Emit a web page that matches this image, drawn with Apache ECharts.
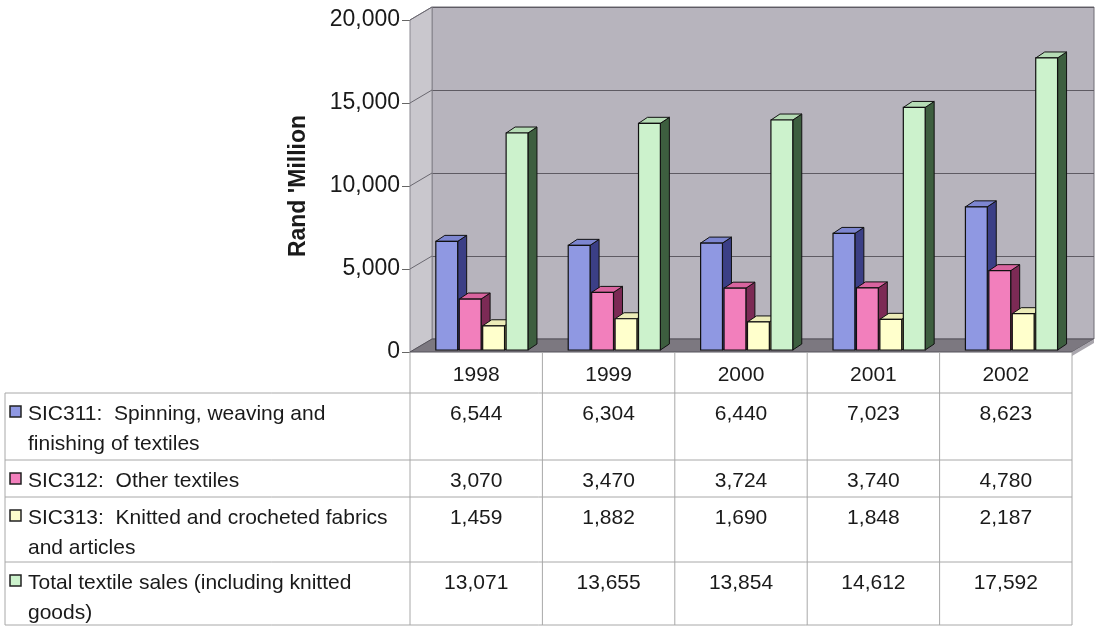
<!DOCTYPE html>
<html><head><meta charset="utf-8">
<script src="https://cdn.jsdelivr.net/npm/echarts@6/dist/echarts.min.js"></script>
<style>html,body{margin:0;padding:0;background:#fff}#c{width:1095px;height:626px}</style>
</head><body><div id="c"></div>
<script>
// ---- data ----
const years = ['1998', '1999', '2000', '2001', '2002'];
const seriesLabels = [
  'SIC311:  Spinning, weaving and\nfinishing of textiles',
  'SIC312:  Other textiles',
  'SIC313:  Knitted and crocheted fabrics\nand articles',
  'Total textile sales (including knitted\ngoods)'
];
const sic311 = [6544, 6304, 6440, 7023, 8623];
const sic312 = [3070, 3470, 3724, 3740, 4780];
const sic313 = [1459, 1882, 1690, 1848, 2187];
const totalSales = [13071, 13655, 13854, 14612, 17592];
const yAxisTitle = "Rand 'Million";
const yMin = 0, yMax = 20000, yStep = 5000;

// ---- style ----
const FONT = '"Liberation Sans", Arial, sans-serif';
const faceC = ['#8f98e2', '#f27fbc', '#ffffcc', '#ccf2cc'];
const sideC = ['#3b3f86', '#7c2a55', '#8f8f5a', '#3d5e3f'];
const topC = ['#7d86d0', '#d9649f', '#ececb8', '#b5dcb5'];
const allSeries = [sic311, sic312, sic313, totalSales];

const chart = echarts.init(document.getElementById('c'), null, {renderer: 'canvas'});

function makeRender(s) {
  return function (params, api) {
    const i = api.value(0), v = api.value(1);
    const base = api.coord([i, 0]);
    const top = api.coord([i, v]);
    const band = api.size([1, 0])[0];
    const x0 = base[0] - band / 2 + band * 0.195 + s * band * 0.177;
    const w = band * 0.165;
    const yb = base[1] - 2, yt = top[1] - 2;
    const dx = 9, dy = 6;
    return {
      type: 'group',
      children: [
        {type: 'polygon', shape: {points: [[x0 + w, yb], [x0 + w + dx, yb - dy], [x0 + w + dx, yt - dy], [x0 + w, yt]]},
          style: {fill: sideC[s], stroke: '#111', lineWidth: 1}},
        {type: 'polygon', shape: {points: [[x0, yt], [x0 + dx, yt - dy], [x0 + w + dx, yt - dy], [x0 + w, yt]]},
          style: {fill: topC[s], stroke: '#111', lineWidth: 1}},
        {type: 'rect', shape: {x: x0, y: yt, width: w, height: yb - yt},
          style: {fill: faceC[s], stroke: '#111', lineWidth: 1.2}}
      ]
    };
  };
}

const FL = 410, FT = 20, FW = 662, FH = 332; // front plane
const DX = 22, DY = 13;                      // depth offset of back wall

const option = {
  animation: false,
  backgroundColor: '#ffffff',
  grid: [
    {left: FL, top: FT, width: FW, height: FH, containLabel: false},
    {left: FL + DX, top: FT - DY, width: FW, height: FH, show: true, backgroundColor: '#b7b4bd', borderColor: '#6f6c74', borderWidth: 1, z: 0}
  ],
  xAxis: [
    {type: 'category', gridIndex: 0, data: years, boundaryGap: true,
      axisLine: {show: false}, axisTick: {show: false},
      axisLabel: {show: true, fontFamily: FONT, fontSize: 21, color: '#1a1a1a', margin: 13}},
    {type: 'category', gridIndex: 1, data: years, show: false}
  ],
  yAxis: [
    {type: 'value', gridIndex: 0, min: yMin, max: yMax, interval: yStep,
      name: yAxisTitle, nameLocation: 'middle', nameGap: 100, nameRotate: 90,
      nameTextStyle: {fontFamily: FONT, fontSize: 23, fontWeight: 'bold', color: '#1a1a1a'},
      axisLine: {show: true, lineStyle: {color: '#8a8890', width: 1}},
      axisTick: {show: true, length: 8, lineStyle: {color: '#666'}},
      axisLabel: {fontFamily: FONT, fontSize: 23, color: '#1a1a1a', margin: 10,
        formatter: v => v.toLocaleString('en-US')},
      splitLine: {show: false}},
    {type: 'value', gridIndex: 1, min: yMin, max: yMax, interval: yStep,
      axisLine: {show: false}, axisTick: {show: false}, axisLabel: {show: false},
      splitLine: {show: true, lineStyle: {color: '#5e5b63', width: 1}}}
  ],
  series: allSeries.map((arr, s) => ({
    type: 'custom', xAxisIndex: 0, yAxisIndex: 0, z: 10 + s,
    renderItem: makeRender(s),
    data: arr.map((v, i) => [i, v])
  }))
};
chart.setOption(option);

// ---- walls, floor and data table (built from the arrays) ----
const g = [];
const p0 = chart.convertToPixel({xAxisIndex: 0, yAxisIndex: 0}, [0, yMin]);
const pTop = chart.convertToPixel({xAxisIndex: 0, yAxisIndex: 0}, [0, yMax]);
const band = FW / years.length;
const yFloor = p0[1], yTopF = pTop[1];
// side wall
g.push({type: 'polygon', z: 1, shape: {points: [[FL, yTopF], [FL + DX, yTopF - DY], [FL + DX, yFloor - DY], [FL, yFloor]]},
  style: {fill: '#c9c7cd', stroke: '#8a8890', lineWidth: 1}});
for (let t = yMin + yStep; t <= yMax; t += yStep) {
  const p = chart.convertToPixel({xAxisIndex: 0, yAxisIndex: 0}, [0, t]);
  g.push({type: 'line', z: 2, shape: {x1: FL, y1: p[1], x2: FL + DX, y2: p[1] - DY}, style: {stroke: '#6a6870', lineWidth: 1}});
}
// floor
g.push({type: 'polygon', z: 3, shape: {points: [[FL, yFloor], [FL + DX, yFloor - DY], [FL + FW + DX, yFloor - DY], [FL + FW, yFloor]]},
  style: {fill: '#7c7880', stroke: '#55525a', lineWidth: 1}});
g.push({type: 'polygon', z: 3, shape: {points: [[FL + FW, yFloor], [FL + FW + DX, yFloor - DY], [FL + FW + DX, yFloor - DY + 4], [FL + FW, yFloor + 4]]},
  style: {fill: '#a9a6ad'}});

// table
const lineC = '#a8a8a8';
const rowTops = [393, 460, 497, 562, 625];
const tblLeft = 5;
const colX = years.map((y, i) => FL + i * band);
colX.push(FL + FW);
colX.forEach(x => {
  g.push({type: 'line', z: 4, shape: {x1: x, y1: yFloor, x2: x, y2: rowTops[rowTops.length - 1]}, style: {stroke: lineC, lineWidth: 1}});
});
g.push({type: 'line', z: 4, shape: {x1: tblLeft, y1: rowTops[0], x2: tblLeft, y2: rowTops[rowTops.length - 1]}, style: {stroke: lineC, lineWidth: 1}});
rowTops.forEach(y => {
  g.push({type: 'line', z: 4, shape: {x1: tblLeft, y1: y, x2: FL + FW, y2: y}, style: {stroke: lineC, lineWidth: 1}});
});
allSeries.forEach((arr, s) => {
  const top = rowTops[s];
  g.push({type: 'rect', z: 5, shape: {x: 10, y: top + 13, width: 11, height: 11},
    style: {fill: faceC[s], stroke: '#222', lineWidth: 1.5}});
  g.push({type: 'text', z: 5, x: 28, y: top + 6,
    style: {text: seriesLabels[s], fontFamily: FONT, fontSize: 21, fill: '#1a1a1a', lineHeight: 30, textAlign: 'left', textVerticalAlign: 'top'}});
  arr.forEach((v, i) => {
    const cx = chart.convertToPixel({xAxisIndex: 0}, i);
    g.push({type: 'text', z: 5, x: cx, y: top + 6,
      style: {text: v.toLocaleString('en-US'), fontFamily: FONT, fontSize: 21, fill: '#1a1a1a', lineHeight: 30, textAlign: 'center', textVerticalAlign: 'top'}});
  });
});
chart.setOption({graphic: g});
</script>
</body></html>
